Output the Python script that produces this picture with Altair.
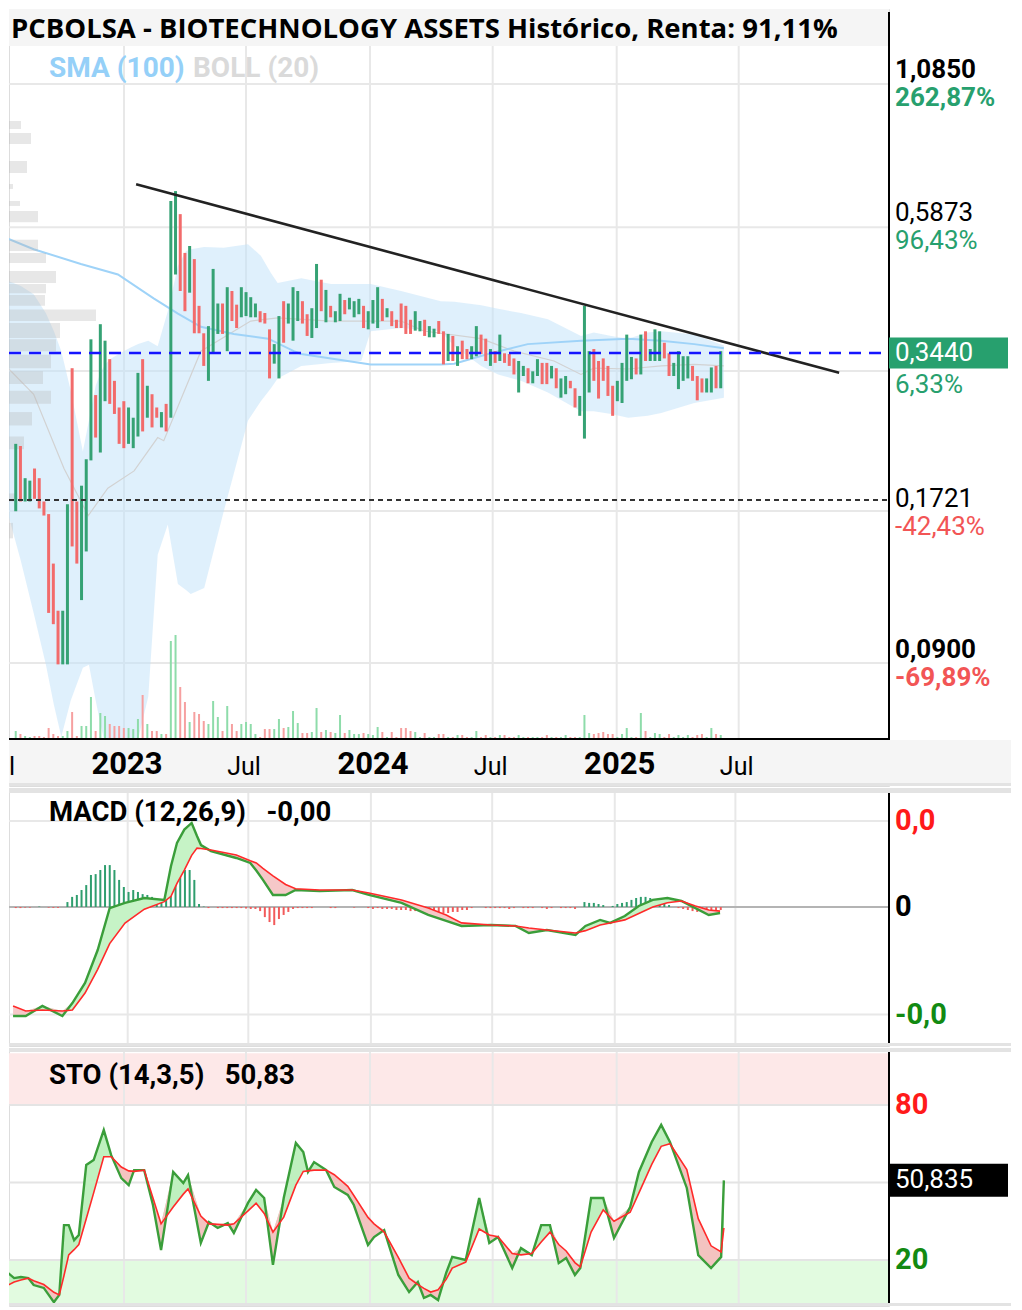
import altair as alt
import pandas as pd

# ------------------------------------------------------------------ data
candle_open = [
    .164, .217, .171, .171, .197, .189, .171, .162, .131, .107,
    .085, .085, .303, .171, .112, .138, .204, .270, .211, .263,
    .315, .287, .256, .263, .219, .215, .226, .315, .245, .271,
    .256, .235, .260, .245, .453, .587, .497, .419, .484, .396,
    .352, .287, .323, .351, .400, .326, .422, .398, .377, .379,
    .377, .377, .387, .384, .358, .309, .290, .404, .367, .341,
    .371, .404, .382, .345, .360, .443, .369, .396, .369, .371,
    .406, .390, .377, .382, .396, .358, .367, .360, .408, .377,
    .387, .373, .400, .396, .373, .356, .355, .373, .346, .346,
    .371, .355, .3125, .348, .306, .341, .329, .315, .319, .350,
    .344, .306, .326, .3125, .323, .322, .316, .273, .293, .303,
    .284, .293, .310, .310, .290, .303, .267, .271, .287, .278,
    .247, .224, .273, .329, .3125, .316, .306, .281, .263, .261,
    .287, .289, .316, .295, .355, .3125, .3125, .3125, .338, .323,
    .293, .277, .287, .290, .306, .293, .290, .273, .273, .306,
    .278]
candle_close = [
    .219, .171, .189, .187, .173, .166, .161, .106, .101, .085,
    .107, .169, .141, .131, .183, .205, .343, .225, .366, .341,
    .260, .249, .219, .215, .256, .245, .297, .231, .281, .235,
    .245, .251, .231, .621, .648, .422, .387, .512, .352, .352,
    .306, .363, .464, .400, .351, .429, .371, .360, .429, .420,
    .411, .400, .369, .367, .290, .336, .379, .338, .400, .429,
    .422, .367, .348, .392, .474, .387, .424, .377, .387, .417,
    .382, .410, .404, .408, .360, .387, .406, .429, .371, .392,
    .363, .360, .360, .351, .351, .387, .371, .348, .363, .359,
    .351, .308, .351, .3125, .333, .315, .315, .333, .363, .322,
    .3125, .329, .310, .350, .310, .306, .295, .3125, .306, .284,
    .299, .315, .283, .283, .306, .278, .290, .293, .278, .256,
    .269, .396, .326, .287, .266, .287, .269, .247, .287, .310,
    .350, .318, .295, .350, .3125, .329, .358, .355, .316, .293,
    .310, .326, .319, .319, .287, .264, .273, .290, .304, .278,
    .326]
volume = [
    80, 50, 30, 20, 30, 30, 20, 110, 50, 30,
    30, 80, 270, 30, 130, 130, 420, 80, 260, 230,
    150, 130, 130, 110, 110, 100, 200, 440, 150, 80,
    80, 50, 50, 980, 1040, 520, 370, 170, 270, 250,
    180, 150, 380, 220, 80, 330, 150, 80, 150, 170,
    150, 50, 20, 100, 100, 100, 200, 110, 120, 280,
    160, 60, 60, 70, 310, 70, 90, 70, 60, 240,
    60, 90, 50, 50, 60, 50, 40, 120, 70, 20,
    70, 20, 110, 110, 80, 70, 20, 60, 20, 20,
    50, 50, 20, 20, 40, 40, 20, 20, 80, 20,
    40, 20, 20, 40, 40, 20, 20, 40, 20, 20,
    20, 20, 20, 40, 20, 20, 20, 40, 20, 20,
    20, 240, 60, 50, 60, 70, 50, 50, 20, 50,
    110, 20, 20, 260, 80, 20, 60, 50, 20, 50,
    20, 40, 20, 40, 20, 40, 50, 20, 110, 50,
    40]
macd_hist = [
    -0.0005, -0.0005, -0.0003, -0.0003, 0, 0.0002, 0, -0.0003, -0.0004, -0.0004,
    0, 0.0023, 0.0047, 0.0056, 0.0079, 0.0102, 0.0149, 0.0153, 0.0172, 0.0195,
    0.0195, 0.0172, 0.0126, 0.0093, 0.0070, 0.0079, 0.0070, 0.0060, 0.0056, 0.0047,
    0.0037, 0.0033, 0.0070, 0.0177, 0.0186, 0.0177, 0.0172, 0.0172, 0.0126, 0.0014,
    0.0002, -0.0005, 0, -0.0005, -0.0005, -0.0005, -0.0005, -0.0005, -0.0005, -0.0007,
    -0.0009, -0.0009, -0.0019, -0.0047, -0.0070, -0.0084, -0.0056, -0.0037, -0.0023, -0.0009,
    -0.0005, -0.0005, -0.0005, -0.0005, 0, 0, 0, -0.0005, -0.0005, 0,
    0, 0, -0.0003, 0, 0, -0.0005, -0.0009, -0.0005, -0.0009, -0.0009,
    -0.0009, -0.0014, -0.0014, -0.0014, -0.0019, -0.0019, -0.0023, -0.0023, -0.0019, -0.0019,
    -0.0023, -0.0028, -0.0028, -0.0023, -0.0023, -0.0014, -0.0014, -0.0005, 0, 0,
    -0.0005, -0.0005, -0.0005, -0.0005, -0.0005, -0.0009, -0.0005, 0, -0.0005, -0.0005,
    -0.0005, 0, -0.0005, -0.0009, -0.0005, 0, -0.0005, -0.0005, -0.0005, -0.0009,
    0, 0.0023, 0.0019, 0.0019, 0.0014, 0.0009, 0, 0.0005, 0.0014, 0.0019,
    0.0023, 0.0033, 0.0042, 0.0047, 0.0047, 0.0042, 0.0037, 0.0028, 0.0019, 0.0009,
    0, -0.0005, -0.0009, -0.0014, -0.0019, -0.0023, -0.0023, -0.0028, -0.0028, -0.0023,
    -0.0014]

# Bollinger (20): days since 2023-01-01
boll_days = [-172, -153, -134, -116, -104, -93, -79, -61, -52, -42, -34, -27, -19, -4, 10, 21, 36, 50,
             65, 80, 92, 99, 119, 148, 184, 203, 218, 228, 263, 307, 352, 366, 411, 470, 490, 530,
             555, 589, 629, 678, 697, 723, 748, 777, 797, 846, 890]
boll_upper = [.441, .431, .416, .384, .355, .326, .275, .212, .242, .281, .299, .309, .316, .324, .331,
              .336, .341, .333, .387, .470, .501, .505, .510, .508, .516, .491, .456, .437, .446, .435,
              .435, .435, .422, .404, .403, .397, .391, .384, .374, .348, .353, .348, .344, .353, .355,
              .350, .334]
boll_lower = [.162, .1325, .106, .085, .0715, .0623, .0728, .0838, .0849, .0728, .0650, .0596, .0584,
              .0584, .0596, .0617, .0740, .136, .155, .120, .117, .115, .118, .164, .242, .263, .278,
              .290, .306, .310, .3125, .355, .360, .355, .333, .306, .295, .287, .273, .252, .252,
              .249, .245, .247, .250, .261, .267]
mid_days = [-172, -134, -89, -53, -24, 15, 50, 59, 114, 188, 228, 307, 411, 445, 530, 579, 638, 678,
            697, 748, 797, 846, 890]
boll_mid = [.303, .271, .197, .161, .181, .195, .225, .222, .326, .371, .376, .371, .371, .3555, .344,
            .326, .3125, .295, .303, .302, .306, .308, .306]
sma_days = [-172, -134, -64, -9, 44, 80, 114, 163, 214, 252, 263, 366, 470, 490, 540, 599, 678, 748,
            797, 846, 890]
sma100 = [.528, .505, .474, .453, .409, .383, .362, .351, .344, .326, .322, .308, .308, .309, .322,
          .336, .341, .344, .341, .336, .330]

# volume by price (left profile)
prof_hi = [.8755, .8316, .7374, .668, .621, .595, .526, .497, .460, .435, .415, .390, .368, .343, .321,
           .299, .275, .251, .226, .177, .156]
prof_lo = [.846, .7932, .7004, .654, .608, .567, .501, .476, .437, .418, .396, .371, .345, .326, .303,
           .283, .260, .237, .214, .171, .146]
prof_vol = [12, 22, 18, 4, 11, 29, 29, 37, 47, 37, 36, 87, 51, 47, 42, 34, 42, 23, 15, 7, 4]

trend_days = [18, 1061]
trend_price = [0.6675, 0.2970]
grid_prices = [1.026, 0.555, 0.2994, 0.1642, 0.0855]
last_price = 0.3236
ref_price = 0.1721

macd_days = [-172, -153, -128, -98, -83, -64, -45, -27, -4, 25, 55, 65, 74, 85, 96, 104, 110, 125, 163,
             184, 193, 203, 218, 237, 252, 288, 337, 362, 411, 451, 478, 501, 545, 582, 602, 629, 672,
             687, 709, 724, 746, 767, 788, 810, 831, 852, 872, 889]
macd_line = [-0.0507, -0.0507, -0.0460, -0.0507, -0.0447, -0.0353, -0.0200, -0.0005, 0.0019, 0.0042,
             0.0033, 0.0191, 0.0298, 0.0360, 0.0391, 0.0330, 0.0288, 0.0260, 0.0228, 0.0205, 0.0170,
             0.0126, 0.0056, 0.0056, 0.0079, 0.0074, 0.0079, 0.0056, 0.0019, -0.0037, -0.0065, -0.0088,
             -0.0084, -0.0088, -0.0121, -0.0107, -0.0130, -0.0088, -0.0060, -0.0074, -0.0042, 0.0005,
             0.0033, 0.0042, 0.0028, -0.0005, -0.0037, -0.0028]
macd_signal = [-0.0460, -0.0484, -0.0479, -0.0484, -0.0479, -0.0400, -0.0290, -0.0170, -0.0075, -0.0010,
               0.0025, 0.0050, 0.0110, 0.0172, 0.0240, 0.0274, 0.0272, 0.0265, 0.0242, 0.0215, 0.0205,
               0.0180, 0.0145, 0.0105, 0.0085, 0.0079, 0.0079, 0.0065, 0.0033, -0.0005, -0.0037, -0.0074,
               -0.0084, -0.0088, -0.0098, -0.0107, -0.0121, -0.0110, -0.0084, -0.0074, -0.0060, -0.0030,
               0.0000, 0.0020, 0.0028, 0.0005, -0.0014, -0.0019]

sto_days = [-172, -163, -153, -142, -134, -119, -104, -96, -89, -82, -74, -67, -56, -45, -30, -19, -4,
            7, 15, 30, 43, 55, 73, 88, 95, 114, 126, 139, 154, 163, 184, 196, 208, 221, 237, 255, 266,
            273, 282, 300, 312, 332, 341, 362, 371, 386, 407, 423, 436, 445, 455, 466, 478, 487, 507,
            527, 542, 555, 576, 589, 605, 619, 632, 645, 656, 669, 677, 693, 711, 727, 751, 764, 783,
            797, 810, 835, 852, 871, 886, 890]
sto_k = [15, 13, 13.4, 13, 10.3, 9.2, 3.7, 6.5, 33.5, 33.5, 27.7, 29.7, 56.8, 58.7, 70.3, 60.6, 51.7,
         49, 54.8, 54.8, 41.3, 23.9, 54.1, 49.8, 52.9, 26.6, 34.7, 32.4, 34.3, 30.5, 42.1, 47.1, 44,
         18.1, 44, 65.3, 61.8, 54.1, 57.9, 54.8, 48.3, 45.2, 41.3, 25.8, 28.9, 31.6, 14.2, 7.6, 11.5,
         5.3, 6.5, 4.5, 15, 21.2, 20, 44, 26.6, 28.9, 16.9, 24.6, 21.9, 33.5, 33.5, 18.8, 20.8, 14.2,
         16.9, 44, 44, 28.5, 40.5, 54.1, 65.7, 72.3, 65.7, 47.9, 21.9, 16.9, 21.2, 50.835]
sto_d = [10.3, 11.5, 12.3, 13, 12, 10.5, 7.5, 6.5, 14, 22, 24, 26, 36, 46, 60, 60, 56, 54.5, 54.3,
         54.8, 44, 34, 40.5, 45.5, 47.5, 37, 34, 33.8, 33.5, 34, 39, 42, 38, 30.8, 36.6, 49, 54.3,
         54.5, 54.8, 54.8, 53, 48.5, 45, 36.5, 34, 30.8, 21, 13, 10.5, 9, 7.6, 8.5, 12.5, 16.9, 19.2,
         32, 29.7, 29, 22.5, 22, 22.5, 27, 30.8, 26, 23.5, 19, 17.3, 30.8, 39.4, 35, 38.5, 46, 57, 64,
         65, 55, 36, 25.5, 23.1, 32.4]

grid_dates = ["2023-01-01", "2023-07-01", "2024-01-01", "2024-07-01", "2025-01-01", "2025-07-01"]
year_labels = ["2023", "2024", "2025"]
year_dates = ["2023-01-01", "2024-01-01", "2025-01-01"]
month_labels = ["Jul", "Jul", "Jul"]
month_dates = ["2023-07-01", "2024-07-01", "2025-07-01"]

# ------------------------------------------------------------------ frames
BASE = pd.Timestamp("2023-01-01")


def as_dates(days):
    return [BASE + pd.Timedelta(days=float(d)) for d in days]


N = len(candle_open)
cdates = pd.date_range(BASE + pd.Timedelta(days=-168), BASE + pd.Timedelta(days=890), periods=N)
candles = pd.DataFrame({"date": cdates, "open": candle_open, "close": candle_close,
                        "vol": volume, "hist": macd_hist, "zero": 0.0})
boll = pd.DataFrame({"date": as_dates(boll_days), "up": boll_upper, "lo": boll_lower})
mid = pd.DataFrame({"date": as_dates(mid_days), "v": boll_mid})
sma = pd.DataFrame({"date": as_dates(sma_days), "v": sma100})
prof = pd.DataFrame({"hi": prof_hi, "lo": prof_lo, "len": prof_vol, "z": 0})
trend = pd.DataFrame({"date": as_dates(trend_days), "p": trend_price})
gridp = pd.DataFrame({"p": grid_prices})
gridd = pd.DataFrame({"date": pd.to_datetime(grid_dates)})
macd = pd.DataFrame({"date": as_dates(macd_days), "m": macd_line, "s": macd_signal})
sto = pd.DataFrame({"date": as_dates(sto_days), "k": sto_k, "d": sto_d})

W = 880
H1, H2, H3 = 777, 258, 258
RIGHT = 1002
GREEN, RED = "#35a274", "#f26b6b"
VGREEN, VRED = "#8edcaa", "#f6a0a0"
GRID = "#e8e8e8"
RFONT = 26

XS = alt.Scale(domain=[alt.DateTime(year=2022, month=7, date=14, hours=9, minutes=36),
                       alt.DateTime(year=2026, month=2, date=9)], nice=False)
PRICE = alt.Scale(type="log", domain=[0.05043, 1.4158], nice=False)
VOLS = alt.Scale(domain=[-470, 7300], nice=False, zero=False)
MACDS = alt.Scale(domain=[-0.06465, 0.05535], nice=False, zero=False)
STOS = alt.Scale(domain=[2.2, 102.07], nice=False, zero=False)


def X(f="date"):
    return alt.X(f"{f}:T", scale=XS, axis=None)


def Yp(f):
    return alt.Y(f"{f}:Q", scale=PRICE, axis=None)


def blank():
    return alt.Chart(pd.DataFrame({"k": [0]}))


def T(**kw):
    d = dict(font="Roboto", align="left", baseline="middle")
    d.update(kw)
    return d


def up_color(a, b):
    return alt.condition("datum.close >= datum.open", alt.value(a), alt.value(b))


def box(x0, x1, y0, y1, color):
    return blank().mark_rect(color=color).encode(
        x=alt.value(x0), x2=alt.value(x1), y=alt.value(y0), y2=alt.value(y1))


def vline(x, y0, y1, color, w):
    return blank().mark_rule(color=color, strokeWidth=w).encode(
        x=alt.value(x), y=alt.value(y0), y2=alt.value(y1))


def hline(y, x0, x1, color, w, clip=True):
    return blank().mark_rule(color=color, strokeWidth=w, clip=clip).encode(
        y=alt.value(y), x=alt.value(x0), x2=alt.value(x1))


# ------------------------------------------------------------------ main panel
p_grid_h = alt.Chart(gridp).mark_rule(color=GRID, strokeWidth=2, clip=True).encode(
    y=Yp("p"), x=alt.value(0), x2=alt.value(W))
p_grid_v = alt.Chart(gridd).mark_rule(color=GRID, strokeWidth=2, clip=True).encode(
    x=X(), y=alt.value(37), y2=alt.value(730))
p_band = alt.Chart(boll).mark_area(color="#bfe2fa", opacity=0.5, clip=True).encode(
    x=X(), y=Yp("up"), y2="lo:Q")
p_mid = alt.Chart(mid).mark_line(color="#d2d2d2", strokeWidth=1.2, clip=True).encode(x=X(), y=Yp("v"))
p_sma = alt.Chart(sma).mark_line(color="#9fd3f8", strokeWidth=2, clip=True).encode(x=X(), y=Yp("v"))
p_prof = alt.Chart(prof).mark_rect(color="#b5b5b5", opacity=0.33, clip=True).encode(
    x=alt.X("len:Q", scale=alt.Scale(domain=[0, W], nice=False, zero=False), axis=None),
    x2="z:Q", y=Yp("hi"), y2="lo:Q")
p_vol = alt.Chart(candles).mark_bar(size=2, clip=True).encode(
    x=X(), y=alt.Y("vol:Q", scale=VOLS, axis=None), y2="zero:Q", color=up_color(VGREEN, VRED))
p_candle = alt.Chart(candles).mark_bar(size=3, clip=True).encode(
    x=X(), y=Yp("open"), y2="close:Q", color=up_color(GREEN, RED))
p_ref = alt.Chart(pd.DataFrame({"p": [ref_price]})).mark_rule(
    color="#333333", strokeWidth=2, strokeDash=[5, 4], clip=True).encode(
    y=Yp("p"), x=alt.value(0), x2=alt.value(W))
p_trend = alt.Chart(trend).mark_line(color="#222222", strokeWidth=2.6, clip=True).encode(x=X(), y=Yp("p"))
p_last = alt.Chart(pd.DataFrame({"p": [last_price]})).mark_rule(
    color="#1515ff", strokeWidth=2.5, strokeDash=[12, 8], clip=True).encode(
    y=Yp("p"), x=alt.value(0), x2=alt.value(W))

p_titlebg = box(0, W, 0, 37, "#f5f5f5")
p_title = blank().mark_text(**T(font="Open Sans", fontSize=27.5, fontWeight="bold", color="#000000",
                                 text="PCBOLSA - BIOTECHNOLOGY ASSETS Histórico, Renta: 91,11%")).encode(
    x=alt.value(2), y=alt.value(21))
p_leg1 = blank().mark_text(**T(fontSize=28, fontWeight="bold", color="#95d0f8", text="SMA (100)")).encode(
    x=alt.value(40), y=alt.value(60))
p_leg2 = blank().mark_text(**T(fontSize=28, fontWeight="bold", color="#dadada", text="BOLL (20)")).encode(
    x=alt.value(184), y=alt.value(60))

p_lblbg = box(0, RIGHT, 731, H1, "#f5f5f5")
p_sep = box(0, RIGHT, 774, H1, "#e3e3e3")
p_axis_r = vline(W, 3, 731, "#000000", 2)
p_axis_b = hline(730, 0, W, "#000000", 2)

yl = pd.DataFrame({"date": pd.to_datetime(year_dates), "t": year_labels})
ml = pd.DataFrame({"date": pd.to_datetime(month_dates), "t": month_labels})
p_years = alt.Chart(yl).mark_text(**T(align="center", fontSize=31, fontWeight="bold", color="#000", dx=3)).encode(
    x=X(), y=alt.value(756), text="t:N")
p_months = alt.Chart(ml).mark_text(**T(align="center", fontSize=25, color="#000", dx=-2)).encode(
    x=X(), y=alt.value(758), text="t:N")
p_cut = blank().mark_text(**T(fontSize=25, color="#000", text="l")).encode(x=alt.value(0), y=alt.value(758))

lab_bold = pd.DataFrame({"p": [1.085, 0.09], "t": ["1,0850", "0,0900"], "c": ["#000000", "#000000"]})
pct_bold = pd.DataFrame({"p": [1.085, 0.09], "t": ["262,87%", "-69,89%"], "c": ["#27a06e", "#f25555"]})
lab_norm = pd.DataFrame({"p": [0.5873, 0.1721], "t": ["0,5873", "0,1721"], "c": ["#000000", "#000000"]})
pct_norm = pd.DataFrame({"p": [0.5873, 0.1721], "t": ["96,43%", "-42,43%"], "c": ["#27a06e", "#f25555"]})
last_df = pd.DataFrame({"p": [last_price], "t": ["0,3440"], "t2": ["6,33%"]})


def rtext(df, dy, bold):
    kw = dict(fontSize=RFONT, dy=dy)
    if bold:
        kw["fontWeight"] = "bold"
    return alt.Chart(df).mark_text(**T(**kw)).encode(
        x=alt.value(W + 6), y=Yp("p"), text="t:N", color=alt.Color("c:N", scale=None))


p_lb = rtext(lab_bold, -1, True)
p_pb = rtext(pct_bold, 27, True)
p_ln = rtext(lab_norm, -1, False)
p_pn = rtext(pct_norm, 27, False)
p_lastbox = alt.Chart(last_df).mark_rect(color="#27a06e", yOffset=-15.5, y2Offset=15.5).encode(
    x=alt.value(W), x2=alt.value(999), y=Yp("p"), y2="p:Q")
p_lasttxt = alt.Chart(last_df).mark_text(**T(fontSize=RFONT, color="#ffffff")).encode(
    x=alt.value(W + 6), y=Yp("p"), text="t:N")
p_lastpct = alt.Chart(last_df).mark_text(**T(fontSize=RFONT, color="#27a06e", dy=32)).encode(
    x=alt.value(W + 6), y=Yp("p"), text="t2:N")

panel1 = alt.layer(
    p_grid_h, p_grid_v, p_band, p_mid, p_sma, p_prof, p_vol, p_candle, p_ref, p_trend, p_last,
    p_titlebg, p_title, p_leg1, p_leg2, p_lblbg, p_sep, p_axis_r, p_axis_b, p_years, p_months, p_cut,
    p_lb, p_pb, p_ln, p_pn, p_lastbox, p_lasttxt, p_lastpct
).resolve_scale(x="independent", y="independent").properties(width=W, height=H1)

# ------------------------------------------------------------------ MACD panel
Ym = lambda f: alt.Y(f"{f}:Q", scale=MACDS, axis=None)
m_sep1 = box(0, RIGHT, 0, 5, "#e3e3e3")
m_sep2 = box(0, RIGHT, 255, H2, "#e3e3e3")
m_grid_v = alt.Chart(gridd).mark_rule(color=GRID, strokeWidth=2, clip=True).encode(
    x=X(), y=alt.value(5), y2=alt.value(255))
m_grid_h = alt.Chart(pd.DataFrame({"v": [0.04, -0.05]})).mark_rule(color=GRID, strokeWidth=2, clip=True).encode(
    y=Ym("v"), x=alt.value(0), x2=alt.value(W))
m_zero = alt.Chart(pd.DataFrame({"v": [0.0]})).mark_rule(color="#b4b4b4", strokeWidth=2, clip=True).encode(
    y=Ym("v"), x=alt.value(0), x2=alt.value(W))
m_hist = alt.Chart(candles).mark_bar(size=2, clip=True).encode(
    x=X(), y=Ym("hist"), y2="zero:Q",
    color=alt.condition("datum.hist >= 0", alt.value("#2f9e6e"), alt.value("#f25a5a")))
m_fill_g = alt.Chart(macd).transform_calculate(hi="max(datum.m, datum.s)").mark_area(
    color="#c6f3c6", clip=True).encode(x=X(), y=Ym("hi"), y2="s:Q")
m_fill_r = alt.Chart(macd).transform_calculate(hi="max(datum.m, datum.s)").mark_area(
    color="#f6c8c8", clip=True).encode(x=X(), y=Ym("hi"), y2="m:Q")
m_line = alt.Chart(macd).mark_line(color="#3a9e3a", strokeWidth=2.4, clip=True).encode(x=X(), y=Ym("m"))
m_sig = alt.Chart(macd).mark_line(color="#ff2a2a", strokeWidth=1.6, clip=True).encode(x=X(), y=Ym("s"))
m_title = blank().mark_text(**T(fontSize=27.5, fontWeight="bold", color="#000",
                                 text="MACD (12,26,9)\u00a0\u00a0\u00a0-0,00")).encode(
    x=alt.value(40), y=alt.value(25))
m_axis = vline(W, 5, 255, "#000000", 2)
m_labels = alt.Chart(pd.DataFrame({"v": [0.04, 0.0, -0.05], "t": ["0,0", "0", "-0,0"],
                                   "c": ["#ff1a1a", "#000000", "#128a12"]})).mark_text(
    **T(fontSize=29, fontWeight="bold")).encode(
    x=alt.value(W + 6), y=Ym("v"), text="t:N", color=alt.Color("c:N", scale=None))

panel2 = alt.layer(
    m_sep1, m_sep2, m_grid_v, m_grid_h, m_zero, m_hist, m_fill_g, m_fill_r, m_line, m_sig,
    m_title, m_axis, m_labels
).properties(width=W, height=H2)

# ------------------------------------------------------------------ STO panel
Ys = lambda f: alt.Y(f"{f}:Q", scale=STOS, axis=None)
bands = pd.DataFrame({"top": [100, 20], "bot": [80, 0], "c": ["#fde8e8", "#e2fbe0"]})
s_sep = box(0, RIGHT, 0, 4, "#e3e3e3")
s_bands = alt.Chart(bands).mark_rect(clip=True).encode(
    y=Ys("top"), y2="bot:Q", x=alt.value(0), x2=alt.value(W), color=alt.Color("c:N", scale=None))
s_grid_v = alt.Chart(gridd).mark_rule(color=GRID, strokeWidth=2, clip=True).encode(
    x=X(), y=alt.value(4), y2=alt.value(256))
s_grid_h = alt.Chart(pd.DataFrame({"v": [80, 50, 20]})).mark_rule(color="#e4e4e4", strokeWidth=2, clip=True).encode(
    y=Ys("v"), x=alt.value(0), x2=alt.value(W))
s_fill_g = alt.Chart(sto).transform_calculate(hi="max(datum.k, datum.d)").mark_area(
    color="#bff0bf", clip=True).encode(x=X(), y=Ys("hi"), y2="d:Q")
s_fill_r = alt.Chart(sto).transform_calculate(hi="max(datum.k, datum.d)").mark_area(
    color="#f3c3c0", clip=True).encode(x=X(), y=Ys("hi"), y2="k:Q")
s_k = alt.Chart(sto).mark_line(color="#3a9e3a", strokeWidth=2.4, clip=True).encode(x=X(), y=Ys("k"))
s_d = alt.Chart(sto).mark_line(color="#ff2a2a", strokeWidth=1.6, clip=True).encode(x=X(), y=Ys("d"))
s_title = blank().mark_text(**T(fontSize=27.5, fontWeight="bold", color="#000",
                                 text="STO (14,3,5)\u00a0\u00a0\u00a050,83")).encode(
    x=alt.value(40), y=alt.value(28))
s_axis = vline(W, 4, 255, "#000000", 2)
s_bottom = box(0, RIGHT, 255, H3, "#e3e3e3")
s_labels = alt.Chart(pd.DataFrame({"v": [80, 20], "t": ["80", "20"], "c": ["#ff1a1a", "#128a12"]})).mark_text(
    **T(fontSize=29, fontWeight="bold")).encode(
    x=alt.value(W + 6), y=Ys("v"), text="t:N", color=alt.Color("c:N", scale=None))
cur = pd.DataFrame({"v": [sto_k[-1]], "t": ["50,835"]})
s_box = alt.Chart(cur).mark_rect(color="#000000", yOffset=-16.5, y2Offset=16.5).encode(
    x=alt.value(W), x2=alt.value(999), y=Ys("v"), y2="v:Q")
s_boxt = alt.Chart(cur).mark_text(**T(fontSize=RFONT, color="#ffffff")).encode(
    x=alt.value(W + 6), y=Ys("v"), text="t:N")

panel3 = alt.layer(
    s_sep, s_bands, s_grid_v, s_grid_h, s_fill_g, s_fill_r, s_k, s_d, s_title, s_axis, s_bottom,
    s_labels, s_box, s_boxt
).properties(width=W, height=H3)

chart = alt.vconcat(panel1, panel2, panel3, spacing=0, padding=0).configure_view(
    strokeWidth=0).configure(background="#ffffff")

chart.save("out.html", embed_options={"renderer": "svg", "actions": False})
